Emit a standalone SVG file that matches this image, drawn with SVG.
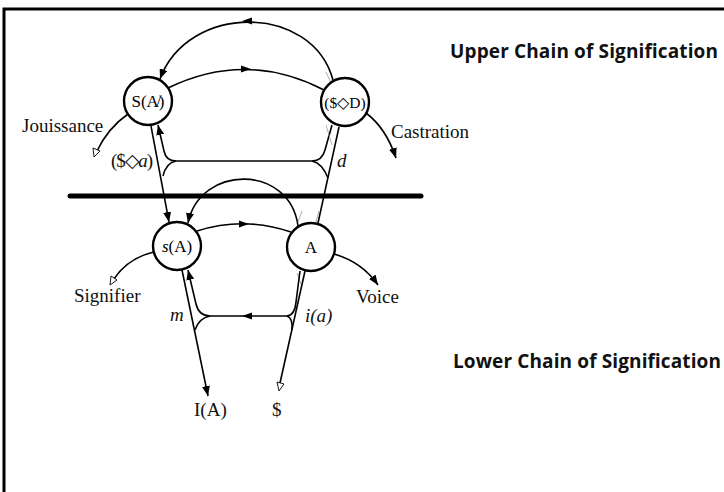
<svg xmlns="http://www.w3.org/2000/svg" width="724" height="492" viewBox="0 0 724 492">
<defs>
<style>
.ln{fill:none;stroke:#000;stroke-width:1.6}
.gr{fill:none;stroke:#999;stroke-width:0.8}
.node circle{fill:#fff;stroke:#000;stroke-width:2.4}
.sf{font-family:"Liberation Serif","Times New Roman",serif;fill:#000}
.lb{font-family:"Liberation Serif","Times New Roman",serif;font-size:19px;fill:#111}
.hd{font-family:"Open Sans","Liberation Sans",sans-serif;font-weight:bold;font-size:19px;fill:#111}
.ah{fill:#000}
.ot{fill:#fff;stroke:#000;stroke-width:0.9}
</style>
<marker id="arr" viewBox="0 0 10 8" refX="10" refY="4" markerWidth="10" markerHeight="8" markerUnits="userSpaceOnUse" orient="auto">
<path d="M0,0 L10,4 L0,8 Z" fill="#000"/>
</marker>
</defs>
<rect width="724" height="492" fill="#fff"/>
<path d="M4,500 L4,9 L730,9" fill="none" stroke="#000" stroke-width="3"/>

<g id="connectors">
<!-- upper chain -->
<path class="ln" d="M333,80 C312,3 188,3 160,79" marker-end="url(#arr)"/>
<path class="ah" d="M242,21 L252,17.5 L252,24.5 Z"/>
<path class="ln" d="M168,88 Q246,50 324,90"/>
<path class="ah" d="M251,69 L241,65.5 L241,72.5 Z"/>
<path class="ln" d="M128,114 Q108,128 97,151"/>
<path class="ot" d="M94,157 L93,148 L100,151 Z"/>
<path class="ln" d="M366,113 Q386,128 396,158" marker-end="url(#arr)"/>
<!-- upper vertical structure -->
<path class="ln" d="M151,126 L169,222" marker-end="url(#arr)"/>
<path class="ln" d="M339,127 L318,223"/>
<path class="ln" d="M332,125 L325,150 Q322,161 312,161 L176,161 Q166,161 164,151 L158,125" marker-end="url(#arr)"/>
<path class="ln" d="M176,161 Q166,163 163,176"/>
<path class="ln" d="M312,161 Q322,163 328,178"/>
<path class="gr" d="M326,125 L332,145 M326,72 L331,83 L335,79"/>
<!-- bar -->
<line x1="70" y1="196" x2="421" y2="196" stroke="#000" stroke-width="5" stroke-linecap="round"/>
<!-- lower chain -->
<path class="ln" d="M298,226 C290,164 200,164 188,223" marker-end="url(#arr)"/>
<path class="ln" d="M197,231 Q244,216 291,232"/>
<path class="ah" d="M249,224 L239,220.5 L239,227.5 Z"/>
<path class="ln" d="M154,252 Q128,258 114,279"/>
<path class="ot" d="M110,285 L111,276 L117,280 Z"/>
<path class="ln" d="M334,254 Q362,262 378,285" marker-end="url(#arr)"/>
<path class="gr" d="M298,222 L302,211 M316,222 L319,211 M297,273 L301,284"/>
<!-- lower vertical structure -->
<path class="ln" d="M182,270 L208,396" marker-end="url(#arr)"/>
<path class="ln" d="M305,271 L280,383"/>
<path class="ot" d="M279,391 L277,382 L284,384 Z"/>
<path class="ln" d="M287,316 Q295,315 296,302 L300,271"/>
<path class="ln" d="M287,316 L210,316 Q199,316 196,304 L188,270" marker-end="url(#arr)"/>
<path class="ah" d="M242,316 L252,312.5 L252,319.5 Z"/>
<path class="ln" d="M210,316 Q199,318 195,330"/>
<path class="ln" d="M287,316 Q293,318 292,330"/>
</g>

<g id="node-SA" class="node">
<circle cx="148" cy="101" r="24"/>
<text class="sf" x="148" y="107" font-size="17" text-anchor="middle">S(A̸)</text>
</g>
<g id="node-SD" class="node">
<circle cx="345" cy="102" r="24"/>
<text class="sf" x="345" y="108" font-size="15.5" text-anchor="middle">($◇D)</text>
</g>
<g id="node-sA" class="node">
<circle cx="177" cy="246" r="24"/>
<text class="sf" x="177" y="252" font-size="17" text-anchor="middle"><tspan font-style="italic">s</tspan>(A)</text>
</g>
<g id="node-A" class="node">
<circle cx="311" cy="247" r="24"/>
<text class="sf" x="311" y="253" font-size="17" text-anchor="middle">A</text>
</g>

<g id="labels">
<text class="lb" x="22" y="132">Jouissance</text>
<text class="lb" x="391" y="138">Castration</text>
<text class="lb" x="111" y="167" font-size="17" textLength="42">($◇<tspan font-style="italic">a</tspan>)</text>
<text class="lb" x="337" y="167" font-size="18" font-style="italic">d</text>
<text class="lb" x="74" y="302">Signifier</text>
<text class="lb" x="356" y="303">Voice</text>
<text class="lb" x="170" y="321" font-size="18" font-style="italic">m</text>
<text class="lb" x="305" y="322" font-size="18" font-style="italic">i(a)</text>
<text class="lb" x="194" y="416" font-size="18">I(A)</text>
<text class="lb" x="272" y="416" font-size="18">$</text>
<text class="hd" x="450" y="58" textLength="268">Upper Chain of Signification</text>
<text class="hd" x="453" y="368" textLength="268">Lower Chain of Signification</text>
</g>
</svg>
